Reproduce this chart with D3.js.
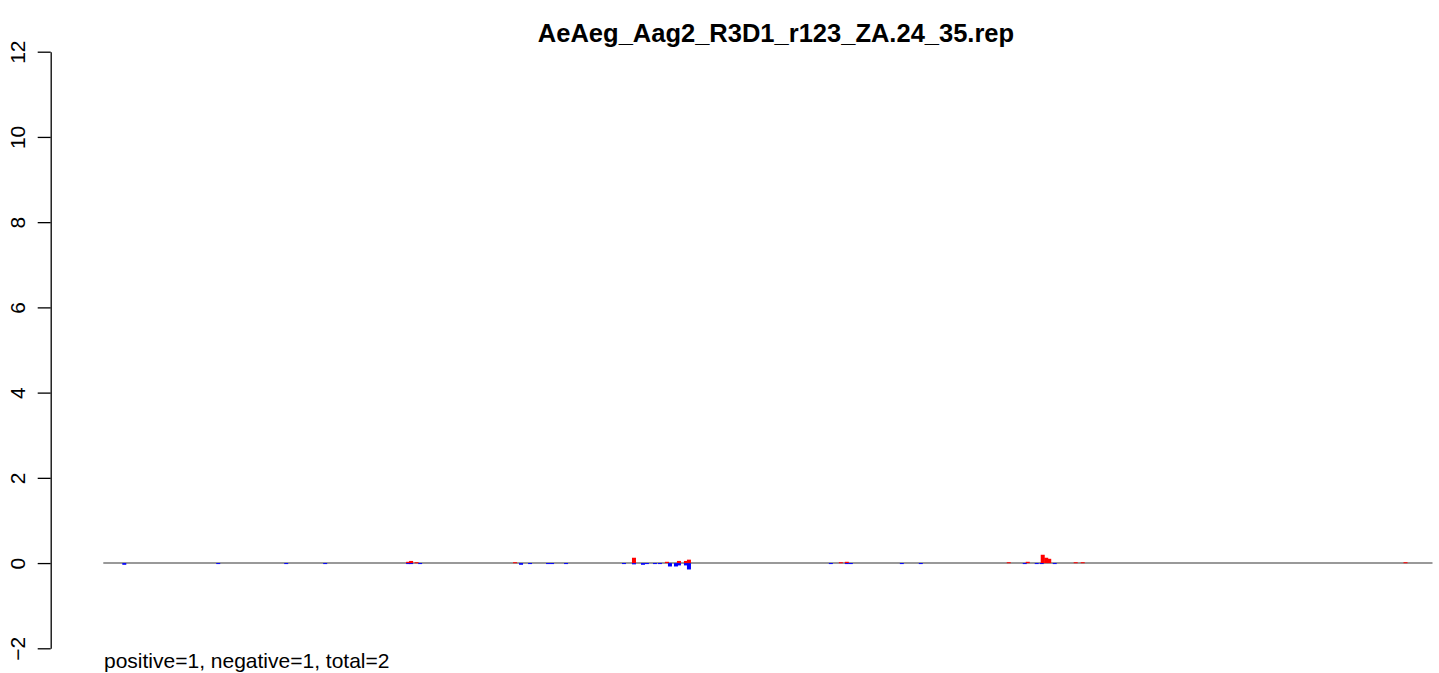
<!DOCTYPE html>
<html>
<head>
<meta charset="utf-8">
<script src="https://cdn.jsdelivr.net/npm/d3@7"></script>
<style>
  html, body { margin: 0; padding: 0; background: #fff; }
  svg { display: block; }
  text { font-family: "Liberation Sans", Arial, Helvetica, sans-serif; }
</style>
</head>
<body>
<svg id="chart" width="1439" height="673"></svg>
<script>
// ---- data ----
const title = "AeAeg_Aag2_R3D1_r123_ZA.24_35.rep";
const footnote = "positive=1, negative=1, total=2";
const yTicks = [-2, 0, 2, 4, 6, 8, 10, 12];
const xExtent = [0, 1330];               // reference positions
// positive-strand values (red)
const posPositions = [305, 308, 313.5, 412, 531, 564, 576, 583, 586, 738, 744, 906, 925, 940, 943.5, 946.5, 973, 980, 1303];
const posValues    = [0.03, 0.05, 0.02, 0.02, 0.125, 0.03, 0.05, 0.05, 0.08, 0.02, 0.03, 0.02, 0.03, 0.195, 0.125, 0.1, 0.02, 0.02, 0.02];
// negative-strand values (blue)
const negPositions = [21, 115, 183, 222, 305, 308, 317, 418, 427, 445, 449, 463, 521, 531, 540, 544, 552, 557, 567, 573, 576, 583, 586, 728, 744, 748, 799, 818, 922, 934, 939, 952];
const negValues    = [-0.04, -0.02, -0.02, -0.02, -0.02, -0.02, -0.02, -0.04, -0.02, -0.02, -0.02, -0.02, -0.02, -0.03, -0.04, -0.02, -0.02, -0.02, -0.08, -0.08, -0.055, -0.055, -0.15, -0.02, -0.02, -0.02, -0.02, -0.02, -0.02, -0.02, -0.02, -0.02];

// ---- scales ----
const svg = d3.select("#chart");
svg.append("rect").attr("width", 1439).attr("height", 673).attr("fill", "#fff");

const y = d3.scaleLinear().domain([-2, 12]).range([648.3, 51.7]);
const x = d3.scaleLinear().domain(xExtent).range([103.3, 1432.5]);

// ---- y axis ----
const yAxis = d3.axisLeft(y).tickValues(yTicks).tickSize(13).tickSizeOuter(0)
  .tickFormat(d => d < 0 ? "\u2212" + Math.abs(d) : d);
const gy = svg.append("g").attr("transform", "translate(50.7,0)").call(yAxis);
gy.select(".domain").attr("stroke", "#000").attr("stroke-width", 1.3);
gy.selectAll(".tick line").attr("stroke", "#000").attr("stroke-width", 1.3);
gy.selectAll(".tick text")
  .attr("font-size", 21)
  .attr("fill", "#000")
  .attr("x", null).attr("dy", null).attr("y", null)
  .attr("text-anchor", "middle")
  .attr("transform", "translate(-26,0) rotate(-90)");

// ---- zero line ----
svg.append("line")
  .attr("x1", x(xExtent[0])).attr("x2", x(xExtent[1]))
  .attr("y1", y(0)).attr("y2", y(0))
  .attr("stroke", "#777").attr("stroke-width", 1.4);

// ---- bars ----
const pos = posPositions.map((p, i) => ({p, v: posValues[i]}));
const neg = negPositions.map((p, i) => ({p, v: negValues[i]}));
const bw = 4;
svg.append("g").selectAll("rect").data(neg).join("rect")
  .attr("x", d => x(d.p) - bw / 2).attr("width", bw)
  .attr("y", y(0)).attr("height", d => Math.max(1, y(d.v) - y(0)))
  .attr("fill", "#0000ff");
svg.append("g").selectAll("rect").data(pos).join("rect")
  .attr("x", d => x(d.p) - bw / 2).attr("width", bw)
  .attr("y", d => y(d.v)).attr("height", d => Math.max(1, y(0) - y(d.v)))
  .attr("fill", "#ff0000");

// ---- title & footnote ----
svg.append("text").attr("x", 776).attr("y", 42)
  .attr("text-anchor", "middle").attr("font-size", 25.5).attr("font-weight", "bold")
  .text(title);
svg.append("text").attr("x", 104).attr("y", 668)
  .attr("font-size", 21).text(footnote);
</script>
</body>
</html>
